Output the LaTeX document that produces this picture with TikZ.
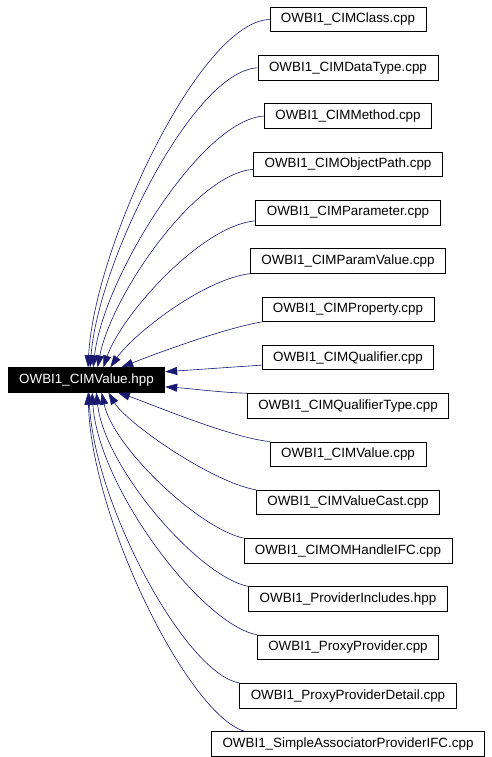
\documentclass[tikz,border=0pt]{standalone}
\usepackage{fontspec}
\setmainfont{Liberation Sans}
\usetikzlibrary{positioning,arrows.meta}
\definecolor{edgeblue}{HTML}{191970}
\tikzstyle{include graph}=[
    x=1pt,y=1pt,node distance=23pt,
    every node/.style={
        draw, line width=0.8pt,
        inner xsep=11pt, inner ysep=0pt,
        minimum height=24.5pt,
        font=\fontsize{13.4}{16}\selectfont,
    },
    every edge/.style={
        draw, edgeblue, line width=0.6pt,
        -{Triangle[length=12pt,width=8pt]},
    },
]
\tikzstyle{current file}=[fill=black, text=white]
\tikzset{
    depends/.style 2 args={
        to path={.. controls +(#1) and +(#2) .. (\tikztotarget)},
    },
}
\newcommand{\owbi}[1]{OWBI1\_#1}

\begin{document}
\begin{tikzpicture}[include graph]
    \useasboundingbox (0,0) rectangle (491,757);

    \node[current file] (hpp) at (86.5,377) {\owbi{CIMValue.hpp}};

    \node (n1) at (348,737.5) {\owbi{CIMClass.cpp}};
    \node[below=of n1] (n2) {\owbi{CIMDataType.cpp}};
    \node[below=of n2] (n3) {\owbi{CIMMethod.cpp}};
    \node[below=of n3] (n4) {\owbi{CIMObjectPath.cpp}};
    \node[below=of n4] (n5) {\owbi{CIMParameter.cpp}};
    \node[below=of n5] (n6) {\owbi{CIMParamValue.cpp}};
    \node[below=of n6] (n7) {\owbi{CIMProperty.cpp}};
    \node[below=of n7] (n8) {\owbi{CIMQualifier.cpp}};
    \node[below=of n8] (n9) {\owbi{CIMQualifierType.cpp}};
    \node[below=of n9] (n10) {\owbi{CIMValue.cpp}};
    \node[below=of n10] (n11) {\owbi{CIMValueCast.cpp}};
    \node[below=of n11] (n12) {\owbi{CIMOMHandleIFC.cpp}};
    \node[below=of n12] (n13) {\owbi{ProviderIncludes.hpp}};
    \node[below=of n13] (n14) {\owbi{ProxyProvider.cpp}};
    \node[below=of n14] (n15) {\owbi{ProxyProviderDetail.cpp}};
    \node[below=of n15] (n16) {\owbi{SimpleAssociatorProviderIFC.cpp}};

    \path
        (n1.west) edge[depends={-70,-2}{6,120}] (hpp.83)
        (n2.west) edge[depends={-65,-3}{8,105}] (hpp.74)
        (n3.west) edge[depends={-62,-3}{10,90}] (hpp.62)
        (n4.183) edge[depends={-58,-4}{14,72}] (hpp.49)
        (n5.185) edge[depends={-55,-5}{18,52}] (hpp.37)
        (n6.south west) edge[depends={-48,-6}{22,32}] (hpp.28)
        (n7.south west) edge[depends={-40,-7}{30,12}] (hpp.20)
        (n8.185) edge[depends={-30,-2}{30,2}] (hpp.6)
        (n9.north west) edge[depends={-30,1}{30,-2}] (hpp.355)
        (n10.north west) edge[depends={-40,4}{30,-10}] (hpp.338)
        (n11.north west) edge[depends={-45,8}{18,-30}] (hpp.330)
        (n12.north west) edge[depends={-45,10}{12,-55}] (hpp.320)
        (n13.north west) edge[depends={-50,10}{8,-75}] (hpp.308)
        (n14.north west) edge[depends={-55,10}{6,-95}] (hpp.294)
        (n15.north west) edge[depends={-55,10}{5,-110}] (hpp.281)
        (n16.173) edge[depends={-55,15}{4,-130}] (hpp.277)
    ;
\end{tikzpicture}
\end{document}
